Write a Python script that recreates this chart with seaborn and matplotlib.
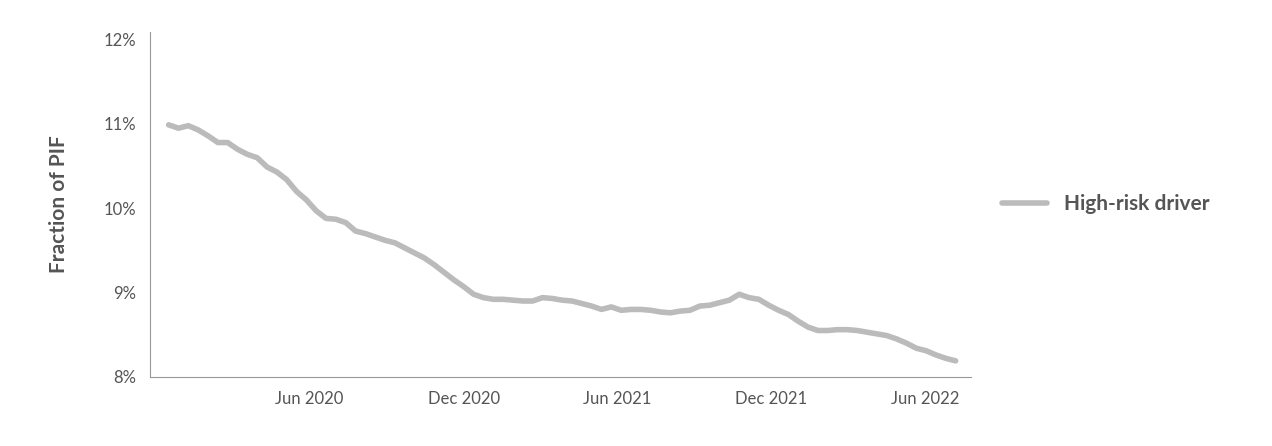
import matplotlib
matplotlib.use("Agg")
import matplotlib.pyplot as plt
import seaborn as sns
import pandas as pd

values = [10.99,10.95,10.98,10.93,10.86,10.78,10.78,10.70,10.64,10.60,
10.49,10.43,10.34,10.20,10.10,9.97,9.88,9.87,9.83,9.73,
9.70,9.66,9.62,9.59,9.53,9.47,9.41,9.33,9.24,9.15,
9.07,8.98,8.94,8.92,8.92,8.91,8.90,8.90,8.94,8.93,
8.91,8.90,8.87,8.84,8.80,8.83,8.79,8.80,8.80,8.79,
8.77,8.76,8.78,8.79,8.84,8.85,8.88,8.91,8.98,8.94,
8.92,8.85,8.79,8.74,8.66,8.59,8.55,8.55,8.56,8.56,
8.55,8.53,8.51,8.49,8.45,8.40,8.34,8.31,8.26,8.22,8.19]
dates = pd.date_range("2019-12-17", periods=len(values), freq="11D16h")
series_name = "High-risk driver"
tick_dates = pd.to_datetime(["2020-06-01","2020-12-01","2021-06-01","2021-12-01","2022-06-01"])
tick_labels = ["Jun 2020","Dec 2020","Jun 2021","Dec 2021","Jun 2022"]
yticks = [8, 9, 10, 11, 12]

df = pd.DataFrame({"date": dates, "value": values, "series": series_name})
sns.set_style("white")
plt.rcParams['font.family'] = ['Lato', 'DejaVu Sans']
fig = plt.figure(figsize=(12.72, 4.46), dpi=100)
ax = fig.add_axes([0.118, 0.155, 0.645, 0.773])
sns.lineplot(data=df, x="date", y="value", hue="series", palette=["#bbbbbb"], linewidth=4, ax=ax)
ax.set_ylim(8.05, 12.09)
ax.set_xlim(pd.Timestamp("2019-11-25"), pd.Timestamp("2022-07-25"))
ax.set_yticks(yticks)
ax.set_yticklabels([f"{v}%" for v in yticks], color="#555555", fontsize=12)
ax.set_xticks(tick_dates)
ax.set_xticklabels(tick_labels, color="#555555", fontsize=12)
ax.tick_params(length=0, pad=10)
ax.set_xlabel("")
ax.set_ylabel("Fraction of PIF", color="#555555", fontsize=15, fontweight="bold", labelpad=25)
for s in ["top", "right"]:
    ax.spines[s].set_visible(False)
for s in ["left", "bottom"]:
    ax.spines[s].set_color("#999999")
leg = ax.legend(loc="center left", bbox_to_anchor=(1.015, 0.5), frameon=False, fontsize=15,
                handlelength=2.2)
for t in leg.get_texts():
    t.set_color("#555555"); t.set_fontweight("bold")
fig.savefig("out.png", dpi=100)
